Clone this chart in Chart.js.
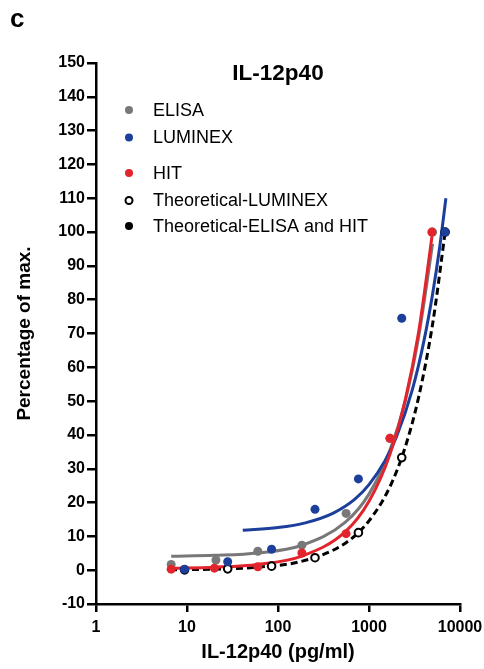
<!DOCTYPE html>
<html>
<head>
<meta charset="utf-8">
<script src="https://cdn.jsdelivr.net/npm/chart.js@4.4.1/dist/chart.umd.min.js"></script>
<style>
  html, body { margin: 0; padding: 0; background: #fff; }
</style>
</head>
<body>
<canvas id="chart" width="484" height="669"></canvas>
<script>
// measured points (pg/ml vs % of max)
var elisaX = [6.7, 20.8, 60, 183, 560, 1700, 5000];
var elisaY = [1.7, 3, 5.6, 7.4, 16.8, 39, 100];
var luminexX = [9.4, 28, 85, 255, 765, 2290, 6870];
var luminexY = [0.3, 2.5, 6.2, 18, 27, 74.5, 100];
var hitX = [6.7, 20, 60, 183, 560, 1700, 4900];
var hitY = [0.3, 0.6, 1.0, 5.1, 10.8, 39, 100];
var theoX = [9.4, 28, 85, 255, 765, 2290, 6870];
var theoY = [0.1, 0.4, 1.2, 3.7, 11.1, 33.3, 100];

// fitted curves
var elisaFitX = [6.7, 20, 60, 180, 550, 1000, 1700, 2500, 3500, 5000];
var elisaFitY = [4.1, 4.4, 5.1, 7.3, 14.2, 22.5, 35.5, 50, 68.8, 96.5];
var hitFitX = [6.7, 20, 60, 180, 550, 1000, 1700, 2500, 3500, 5000];
var hitFitY = [0.6, 0.9, 1.7, 4.1, 11.4, 20.4, 34.3, 50.3, 70.2, 100];
var luminexFitX = [41, 100, 200, 400, 700, 1000, 1500, 2000, 3000, 4000, 5000, 6000, 7000];
var luminexFitY = [11.8, 12.6, 14, 16.8, 21, 25.3, 32.4, 39.4, 53.5, 67.6, 81.7, 95.8, 110];
var theoFitX = [6.5, 20, 60, 180, 550, 1000, 1700, 2500, 3500, 5000, 6870];
var theoFitY = [0.1, 0.3, 0.9, 2.6, 8, 14.6, 24.7, 36.4, 51, 72.8, 100];

var xTicks = [1, 10, 100, 1000, 10000];
var chartTitle = 'IL-12p40';
var legendLabels = ['ELISA', 'LUMINEX', 'HIT', 'Theoretical-LUMINEX', 'Theoretical-ELISA and HIT'];

var GRAY = '#787878', BLUE = '#1c3f9c', RED = '#e2242c';
var FONT = '"Liberation Sans", Arial, sans-serif';

function pts(xs, ys) {
    return xs.map(function (x, i) { return { x: x, y: ys[i] }; });
}

function fitLine(label, xs, ys, color, order, dash) {
    return {
        label: label, data: pts(xs, ys), showLine: true, borderColor: color, borderWidth: 3,
        borderDash: dash || [], pointRadius: 0, fill: false,
        cubicInterpolationMode: 'monotone', order: order
    };
}

function dots(label, xs, ys, color, order) {
    return {
        label: label, data: pts(xs, ys), showLine: false,
        pointRadius: 4.5, pointBackgroundColor: color, pointBorderColor: color,
        pointBorderWidth: 0, order: order
    };
}

var annot = {
    id: 'annot',
    afterDraw: function (chart) {
        var ctx = chart.ctx;
        ctx.save();
        ctx.fillStyle = '#000';
        ctx.textAlign = 'left';
        ctx.textBaseline = 'alphabetic';
        ctx.font = 'bold 26px ' + FONT;
        ctx.fillText('c', 10, 27);
        ctx.textAlign = 'center';
        ctx.font = 'bold 22.5px ' + FONT;
        ctx.fillText(chartTitle, 278, 79.5);

        // legend
        var rows = [110, 137.5, 173, 200.5, 226];
        ctx.textAlign = 'left';
        ctx.textBaseline = 'middle';
        ctx.font = '18px ' + FONT;
        var styles = [GRAY, BLUE, RED, 'open', '#000'];
        for (var i = 0; i < legendLabels.length; i++) {
            var y = rows[i];
            ctx.beginPath();
            if (styles[i] === 'open') {
                ctx.arc(129, y, 3.5, 0, Math.PI * 2);
                ctx.lineWidth = 2;
                ctx.strokeStyle = '#000';
                ctx.stroke();
            } else {
                ctx.arc(129, y, 4, 0, Math.PI * 2);
                ctx.fillStyle = styles[i];
                ctx.fill();
            }
            ctx.fillStyle = '#000';
            ctx.fillText(legendLabels[i], 153, y + 1);
        }
        ctx.restore();
    }
};

var axisGrid = {
    display: true, drawOnChartArea: false, drawTicks: true,
    tickLength: 8, color: '#000', lineWidth: 2.5
};

new Chart(document.getElementById('chart'), {
    type: 'scatter',
    data: {
        datasets: [
            dots('HIT', hitX, hitY, RED, 1),
            dots('LUMINEX', luminexX, luminexY, BLUE, 2),
            {
                label: 'Theoretical-LUMINEX', data: pts(theoX, theoY), showLine: false,
                pointRadius: 3.8, pointBackgroundColor: '#fff', pointBorderColor: '#000',
                pointBorderWidth: 2, order: 3
            },
            dots('ELISA', elisaX, elisaY, GRAY, 4),
            fitLine('HIT fit', hitFitX, hitFitY, RED, 5),
            fitLine('LUMINEX fit', luminexFitX, luminexFitY, BLUE, 6),
            fitLine('ELISA fit', elisaFitX, elisaFitY, GRAY, 7),
            fitLine('Theoretical-ELISA and HIT', theoFitX, theoFitY, '#000', 8, [7, 4])
        ]
    },
    options: {
        responsive: false,
        animation: false,
        devicePixelRatio: 1,
        layout: { padding: { left: 13, right: 0, top: 63, bottom: 5 } },
        plugins: {
            legend: { display: false },
            tooltip: { enabled: false },
            title: { display: false }
        },
        scales: {
            x: {
                type: 'logarithmic', min: 1, max: 10000,
                afterBuildTicks: function (scale) {
                    scale.ticks = xTicks.map(function (v) { return { value: v }; });
                },
                afterFit: function (scale) {
                    scale.height = 60;
                    scale.paddingRight = 24;
                },
                ticks: {
                    autoSkip: false, maxRotation: 0, padding: 6, color: '#000',
                    font: { family: FONT, size: 16, weight: 'bold' },
                    callback: function (v) { return String(v); }
                },
                grid: axisGrid,
                border: { display: true, color: '#000', width: 2.5 },
                title: {
                    display: true, text: 'IL-12p40 (pg/ml)', color: '#000',
                    font: { family: FONT, size: 20, weight: 'bold' },
                    padding: { top: 0, bottom: 0 }
                }
            },
            y: {
                min: -10, max: 150,
                afterFit: function (scale) { scale.width = 83; },
                ticks: {
                    stepSize: 10, padding: 2, color: '#000',
                    font: { family: FONT, size: 16, weight: 'bold' }
                },
                grid: Object.assign({}, axisGrid, { tickLength: 9 }),
                border: { display: true, color: '#000', width: 2.5 },
                title: {
                    display: true, text: 'Percentage of max.', color: '#000',
                    font: { family: FONT, size: 19, weight: 'bold' },
                    padding: { top: 0, bottom: 4 }
                }
            }
        }
    },
    plugins: [annot]
});
</script>
</body>
</html>
